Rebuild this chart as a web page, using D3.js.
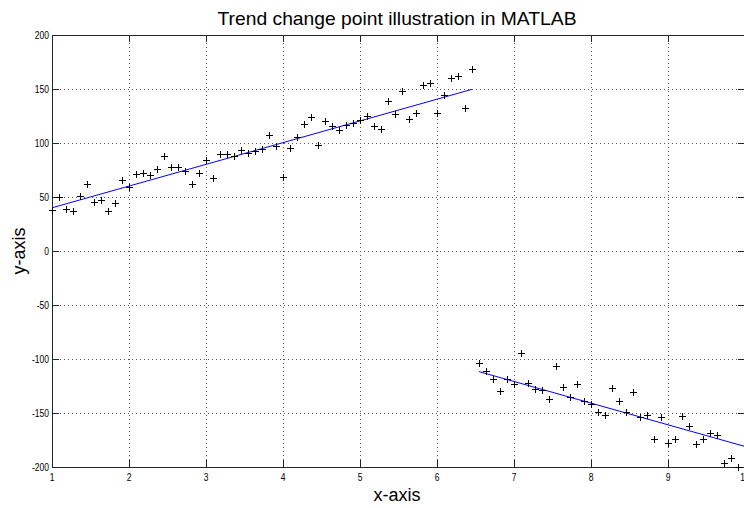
<!DOCTYPE html>
<html>
<head>
<meta charset="utf-8">
<script src="https://cdn.jsdelivr.net/npm/d3@7"></script>
<style>
  html, body { margin: 0; padding: 0; background: #fff; }
  svg { display: block; }
</style>
</head>
<body>
<svg id="chart" width="744" height="508"></svg>
<script>
// ---- data ----
const titleText = "Trend change point illustration in MATLAB";
const xLabelText = "x-axis";
const yLabelText = "y-axis";
const xTicks = [1, 2, 3, 4, 5, 6, 7, 8, 9, 10];
const yTicks = [-200, -150, -100, -50, 0, 50, 100, 150, 200];

const xLeft = [1, 1.0909, 1.1818, 1.2727, 1.3636, 1.4545, 1.5455, 1.6364, 1.7273, 1.8182, 1.9091,
  2, 2.0909, 2.1818, 2.2727, 2.3636, 2.4545, 2.5455, 2.6364, 2.7273, 2.8182, 2.9091,
  3, 3.0909, 3.1818, 3.2727, 3.3636, 3.4545, 3.5455, 3.6364, 3.7273, 3.8182, 3.9091,
  4, 4.0909, 4.1818, 4.2727, 4.3636, 4.4545, 4.5455, 4.6364, 4.7273, 4.8182, 4.9091,
  5, 5.0909, 5.1818, 5.2727, 5.3636, 5.4545, 5.5455, 5.6364, 5.7273, 5.8182, 5.9091,
  6, 6.0909, 6.1818, 6.2727, 6.3636, 6.4545];
const yLeft = [38, 49.7, 39, 37, 51, 62, 45.4, 47, 37, 44.4, 65.4,
  59.3, 71, 72, 70, 76.2, 88, 77.8, 77.8, 74, 61.7, 72,
  84, 67.9, 89.5, 89.5, 88, 93.2, 91, 92.6, 94.2, 107, 97.2,
  68.2, 95.4, 105.2, 117.3, 123.8, 97.9, 120, 116, 112, 116.7, 118.2,
  121.3, 125, 116, 113, 139.2, 126.5, 147.9, 122, 127.5, 153.4, 155.3,
  127.5, 144.2, 160.2, 161.7, 132.1, 168.8];

const xRight = [6.5455, 6.6364, 6.7273, 6.8182, 6.9091,
  7, 7.0909, 7.1818, 7.2727, 7.3636, 7.4545, 7.5455, 7.6364, 7.7273, 7.8182, 7.9091,
  8, 8.0909, 8.1818, 8.2727, 8.3636, 8.4545, 8.5455, 8.6364, 8.7273, 8.8182, 8.9091,
  9, 9.0909, 9.1818, 9.2727, 9.3636, 9.4545, 9.5455, 9.6364, 9.7273, 9.8182, 9.9091, 10];
const yRight = [-104, -110.8, -118.2, -129.3, -118.2,
  -123.5, -94.8, -122.5, -127.8, -128.4, -137, -106.2, -125.9, -135.5, -123.5, -138.9,
  -141.4, -149, -152.2, -126.6, -138.9, -148.8, -130.3, -153.4, -151.9, -173.8, -153.4,
  -178, -173.8, -152.8, -162, -179, -173.8, -168.8, -170.4, -196, -191.4, -199.8, -204];

const fitLeftX = [1, 6.4545];
const fitLeftY = [40, 149.7];
const fitRightX = [6.5455, 10];
const fitRightY = [-111.7, -181];

// ---- drawing ----
const svg = d3.select("#chart");
const x = d3.scaleLinear().domain([1, 10]).range([52, 745]);
const y = d3.scaleLinear().domain([-200, 200]).range([467, 35]);
const axisColor = "#262626";
const tickLen = 7;
const px = v => Math.round(v) + 0.5;

// grid
const grid = svg.append("g");
grid.selectAll("line.gx").data(xTicks.slice(1, -1)).join("line")
  .attr("x1", d => px(x(d))).attr("x2", d => px(x(d)))
  .attr("y1", y(200)).attr("y2", y(-200))
  .attr("stroke", "#555").attr("stroke-width", 1).attr("stroke-dasharray", "1,3");
grid.selectAll("line.gy").data(yTicks.slice(1, -1)).join("line")
  .attr("x1", x(1)).attr("x2", x(10))
  .attr("y1", d => px(y(d))).attr("y2", d => px(y(d)))
  .attr("stroke", "#555").attr("stroke-width", 1).attr("stroke-dasharray", "1,3");

// axis box
const box = svg.append("g").attr("shape-rendering", "crispEdges");
box.append("rect")
  .attr("x", px(x(1))).attr("y", px(y(200)))
  .attr("width", Math.round(x(10)) - Math.round(x(1)))
  .attr("height", Math.round(y(-200)) - Math.round(y(200)))
  .attr("fill", "none").attr("stroke", axisColor).attr("stroke-width", 1);

// ticks (inward, on all four sides)
xTicks.forEach(t => {
  const xx = px(x(t));
  box.append("line").attr("x1", xx).attr("x2", xx).attr("y1", y(-200)).attr("y2", y(-200) - tickLen).attr("stroke", axisColor);
  box.append("line").attr("x1", xx).attr("x2", xx).attr("y1", y(200)).attr("y2", y(200) + tickLen).attr("stroke", axisColor);
});
yTicks.forEach(t => {
  const yy = px(y(t));
  box.append("line").attr("x1", x(1)).attr("x2", x(1) + tickLen).attr("y1", yy).attr("y2", yy).attr("stroke", axisColor);
  box.append("line").attr("x1", x(10)).attr("x2", x(10) - tickLen).attr("y1", yy).attr("y2", yy).attr("stroke", axisColor);
});

// tick labels
const lblFont = "'Liberation Sans', Arial, sans-serif";
function squeeze(sel, f) {
  sel.each(function () {
    const w = this.getComputedTextLength();
    d3.select(this).attr("textLength", w * f).attr("lengthAdjust", "spacingAndGlyphs");
  });
}
const xl = svg.append("g").selectAll("text").data(xTicks).join("text")
  .attr("x", d => x(d)).attr("y", 481)
  .attr("text-anchor", "middle")
  .attr("font-family", lblFont).attr("font-size", 10).attr("fill", "#000")
  .text(d => d);
squeeze(xl, 0.85);
const yl = svg.append("g").selectAll("text").data(yTicks).join("text")
  .attr("x", 49).attr("y", d => y(d) + 3.5)
  .attr("text-anchor", "end")
  .attr("font-family", lblFont).attr("font-size", 10).attr("fill", "#000")
  .text(d => d);
squeeze(yl, 0.85);

// fitted lines
const line = d3.line().x(d => x(d[0])).y(d => y(d[1]));
svg.append("path").datum(d3.zip(fitLeftX, fitLeftY)).attr("d", line)
  .attr("fill", "none").attr("stroke", "#0000ff").attr("stroke-width", 1);
svg.append("path").datum(d3.zip(fitRightX, fitRightY)).attr("d", line)
  .attr("fill", "none").attr("stroke", "#0000ff").attr("stroke-width", 1);

// markers "+"
const pts = d3.zip(xLeft.concat(xRight), yLeft.concat(yRight))
  .filter(d => d[1] >= -200 && d[1] <= 200);
const r = 3.5;
const mk = svg.append("g").attr("stroke", "#000").attr("stroke-width", 1);
mk.selectAll("path").data(pts).join("path")
  .attr("d", d => {
    const cx = Math.round(x(d[0])) + 0.5, cy = Math.round(y(d[1])) + 0.5;
    return `M${cx - r},${cy}H${cx + r}M${cx},${cy - r}V${cy + r}`;
  });

// title and axis labels
const title = svg.append("text").attr("x", 397).attr("y", 25)
  .attr("text-anchor", "middle").attr("font-family", lblFont).attr("font-size", 19)
  .attr("fill", "#000").text(titleText);
title.attr("textLength", 359).attr("lengthAdjust", "spacingAndGlyphs");
svg.append("text").attr("x", 397).attr("y", 501)
  .attr("text-anchor", "middle").attr("font-family", lblFont).attr("font-size", 18)
  .attr("fill", "#000").text(xLabelText);
svg.append("text").attr("transform", "translate(25,251) rotate(-90)")
  .attr("text-anchor", "middle").attr("font-family", lblFont).attr("font-size", 18)
  .attr("fill", "#000").text(yLabelText);
</script>
</body>
</html>
